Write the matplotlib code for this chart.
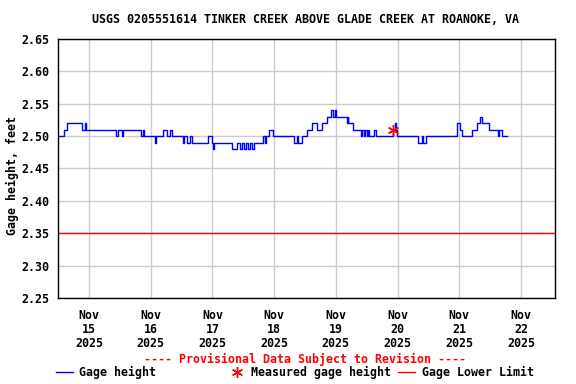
import numpy as np
import pandas as pd
import matplotlib
matplotlib.use("Agg")
import matplotlib.pyplot as plt
from matplotlib.lines import Line2D

# Gage height steps: hours after Nov 15 00:00 and value (feet)
step_hours = [-12.1, -9.6, -8.7, -2.8, -1.6, -1.2, 10.5, 11.2, 12.8, 13.3,
              20.1, 21.0, 21.4, 25.7, 26.1, 28.8, 30.3, 31.5, 32.2, 36.4,
              36.8, 38.2, 39.3, 40.2, 46.4, 47.7, 48.4, 48.6, 55.5, 57.5,
              58.7, 59.5, 60.3, 61.1, 61.9, 62.6, 63.4, 64.2, 67.8, 68.5,
              68.9, 70.1, 71.7, 79.9, 80.8, 81.3, 82.7, 84.6, 86.6, 88.6,
              90.8, 92.4, 94.0, 95.0, 95.7, 96.1, 100.2, 100.6, 100.9, 102.8,
              105.7, 106.1, 107.0, 107.4, 108.0, 108.4, 108.9, 110.9, 111.6, 118.4,
              119.0, 119.4, 119.7, 128.1, 129.4, 130.0, 131.1, 143.3, 144.3, 145.0,
              148.9, 150.8, 152.1, 152.7, 155.7, 159.2, 159.6, 160.5, 162.7]
step_values = [2.50, 2.51, 2.52, 2.51, 2.52, 2.51, 2.50, 2.51, 2.50, 2.51,
               2.50, 2.51, 2.50, 2.49, 2.50, 2.51, 2.50, 2.51, 2.50, 2.49,
               2.50, 2.49, 2.50, 2.49, 2.50, 2.49, 2.48, 2.49, 2.48, 2.49,
               2.48, 2.49, 2.48, 2.49, 2.48, 2.49, 2.48, 2.49, 2.50, 2.49,
               2.50, 2.51, 2.50, 2.49, 2.50, 2.49, 2.50, 2.51, 2.52, 2.51,
               2.52, 2.53, 2.54, 2.53, 2.54, 2.53, 2.52, 2.53, 2.52, 2.51,
               2.50, 2.51, 2.50, 2.51, 2.50, 2.51, 2.50, 2.51, 2.50, 2.51,
               2.52, 2.51, 2.50, 2.49, 2.50, 2.49, 2.50, 2.52, 2.51, 2.50,
               2.51, 2.52, 2.53, 2.52, 2.51, 2.50, 2.51, 2.50, 2.50]

measured_hour = 118.3
measured_value = 2.51
lower_limit = 2.35

tick_days = ["2025-11-15", "2025-11-16", "2025-11-17", "2025-11-18",
             "2025-11-19", "2025-11-20", "2025-11-21", "2025-11-22"]
y_ticks = [2.25, 2.30, 2.35, 2.40, 2.45, 2.50, 2.55, 2.60, 2.65]

title = "USGS 0205551614 TINKER CREEK ABOVE GLADE CREEK AT ROANOKE, VA"

plt.rcParams['font.family'] = ['DejaVu Sans Mono']
plt.rcParams['font.weight'] = 'bold'
fs = 8.4

base = pd.Timestamp("2025-11-15")
times = base + pd.to_timedelta(step_hours, unit="h")
meas_time = base + pd.Timedelta(hours=measured_hour)

fig = plt.figure(figsize=(5.76, 3.84), dpi=100)
ax = fig.add_axes([0.1007, 0.224, 0.8628, 0.6744])

ax.step(times, step_values, where='post', color='#0000ff', linewidth=1)
ax.axhline(lower_limit, color='#ff0000', linewidth=1)
ax.plot([meas_time], [measured_value], marker=(6, 2, 0), color='#ff0000',
        markersize=8, markeredgewidth=1, linestyle='none')

ax.set_xlim(pd.Timestamp("2025-11-14 11:56"), pd.Timestamp("2025-11-22 13:13"))
ax.set_ylim(2.25, 2.65)
ax.set_yticks(y_ticks)
ax.set_yticklabels([f"{v:.2f}" for v in y_ticks], fontsize=fs, fontweight='bold')
ticks = pd.to_datetime(tick_days)
ax.set_xticks(ticks)
ax.set_xticklabels([f"{d:%b}\n{d.day}\n{d.year}" for d in ticks],
                   fontsize=fs, fontweight='bold', linespacing=1.1)
ax.tick_params(axis='both', length=0)
ax.tick_params(axis='x', pad=8)
ax.tick_params(axis='y', pad=6)
ax.grid(True, color='#cccccc', linewidth=1)
ax.set_axisbelow(True)
for s in ax.spines.values():
    s.set_color('black')
    s.set_linewidth(1)

fig.text(0.021, 0.544, "Gage height, feet", rotation=90, ha='center', va='center',
         fontsize=fs, fontweight='bold')
fig.text(0.530, 0.948, title, ha='center', va='center', fontsize=fs, fontweight='bold')

# footer
fig.text(0.530, 0.065, "---- Provisional Data Subject to Revision ----",
         ha='center', va='center', color='#ff0000', fontsize=fs, fontweight='bold')
ly = 0.031
fig.add_artist(Line2D([0.097, 0.127], [ly, ly], color='#0000ff', linewidth=1,
                      transform=fig.transFigure))
fig.text(0.1377, ly, "Gage height", ha='left', va='center', fontsize=fs, fontweight='bold')
fig.add_artist(Line2D([0.411], [ly], marker=(6, 2, 0), color='#ff0000', markersize=8,
                      markeredgewidth=1, linestyle='none', transform=fig.transFigure))
fig.text(0.435, ly, "Measured gage height", ha='left', va='center', fontsize=fs, fontweight='bold')
fig.add_artist(Line2D([0.691, 0.720], [ly, ly], color='#ff0000', linewidth=1,
                      transform=fig.transFigure))
fig.text(0.732, ly, "Gage Lower Limit", ha='left', va='center', fontsize=fs, fontweight='bold')

fig.savefig("out.png", dpi=100)
